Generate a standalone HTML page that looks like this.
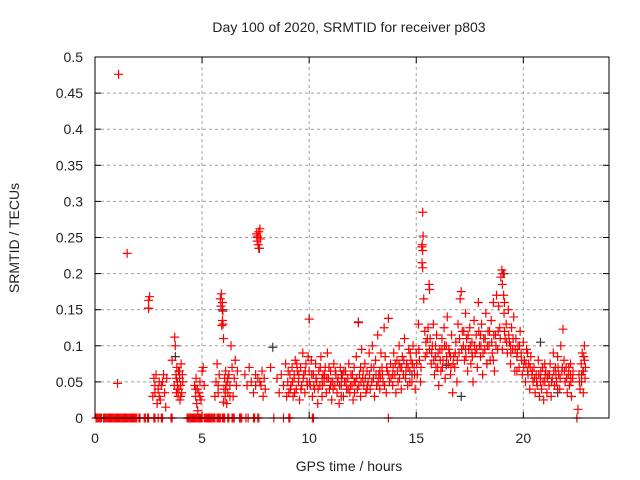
<!DOCTYPE html>
<html><head><meta charset="utf-8">
<style>
html,body{margin:0;padding:0;background:#fff;}
svg{display:block;font-family:"Liberation Sans",sans-serif;}
</style></head>
<body>
<svg id="chart" width="640" height="480" viewBox="0 0 640 480">
<text x="349" y="32" font-size="14" text-anchor="middle" fill="#222">Day 100 of 2020, SRMTID for receiver p803</text>
<text x="349" y="471" font-size="14" text-anchor="middle" fill="#222">GPS time / hours</text>
<text transform="translate(19,238) rotate(-90)" font-size="14" text-anchor="middle" fill="#222">SRMTID / TECUs</text>
<g id="grid"></g>
<g id="ticks"></g>
<g id="blk"></g>
<g id="red"></g>
<rect x="95" y="57" width="514" height="361" fill="none" stroke="#000" stroke-width="1"/>
</svg>
<script>
const xTicks=[0,5,10,15,20];
const xTickLabels=["0","5","10","15","20"];
const yTicks=[0,0.05,0.1,0.15,0.2,0.25,0.3,0.35,0.4,0.45,0.5];
const yTickLabels=["0","0.05","0.1","0.15","0.2","0.25","0.3","0.35","0.4","0.45","0.5"];
const zeroHours=[0.05,0.1,0.15,0.2,0.25,0.3,0.4,0.45,0.5,0.55,0.6,0.65,0.7,0.75,0.8,0.85,0.9,0.95,1.0,1.05,1.1,1.15,1.2,1.25,1.3,1.35,1.4,1.45,1.5,1.55,1.6,1.65,1.7,1.75,1.8,1.85,1.9,1.95,2.05,2.1,2.3,2.35,2.45,2.5,2.75,2.8,2.95,3.1,3.15,3.55,3.6,4.3,4.35,4.4,4.45,4.5,4.55,4.6,4.65,4.7,4.75,4.8,4.85,4.9,4.95,5.0,5.1,5.15,5.2,5.25,5.3,5.35,5.4,5.45,5.5,5.55,5.6,5.7,5.75,5.8,5.85,5.95,6.0,6.05,6.2,6.25,6.4,6.45,6.5,6.75,6.8,6.85,7.05,7.15,7.4,7.45,7.6,7.65,8.35,8.8,9.05,9.1,10.15,10.2,13.7,22.5];
const redPoints=[
[1.1,.476],[1.05,.048],[1.5,.228],[2.5,.163],[2.55,.168],[2.5,.152],
[2.7,.03],[2.75,.055],[2.8,.045],[2.85,.06],[2.9,.02],[2.95,.04],[3.0,.05],[3.05,.025],[3.1,.045],[3.2,.06],[3.25,.035],[3.3,.015],[3.35,.055],[2.8,.035],[3.0,.03],[3.15,.05],
[3.6,.08],[3.7,.045],[3.72,.112],[3.75,.1],[3.78,.06],[3.8,.035],[3.82,.07],[3.85,.05],[3.88,.03],[3.9,.065],[3.92,.04],[3.95,.055],[3.97,.025],[4.0,.045],[4.02,.075],[4.05,.035],[4.08,.06],[4.1,.05],[3.85,.04],[3.95,.065],[4.0,.03],[3.8,.055],
[4.65,.045],[4.7,.03],[4.72,.055],[4.75,.02],[4.78,.04],[4.8,.01],[4.85,.035],[4.9,.05],[4.95,.025],[5.0,.065],[5.05,.07],[5.1,.045],[4.7,.04],[4.9,.03],
[5.6,.03],[5.65,.05],[5.7,.075],[5.75,.045],[5.8,.06],[5.85,.165],[5.88,.155],[5.9,.172],[5.92,.128],[5.95,.135],[5.98,.13],[6.0,.11],[5.95,.16],[5.97,.148],[6.0,.022],[6.02,.04],[6.05,.055],[6.08,.03],[6.1,.065],[6.12,.045],[6.15,.02],[6.18,.05],[6.2,.035],[6.25,.06],[6.3,.045],[6.35,.1],[6.4,.07],[6.45,.03],[6.5,.055],[6.55,.08],[6.6,.045],[6.65,.065],[6.1,.04],[6.2,.055],[6.3,.03],[5.75,.035],
[7.0,.06],[7.1,.045],[7.2,.07],[7.3,.05],[7.4,.035],[7.5,.06],[7.55,.255],[7.57,.245],[7.6,.25],[7.62,.24],[7.65,.258],[7.68,.235],[7.7,.262],[7.72,.248],[7.58,.252],[7.75,.045],[7.8,.065],[7.85,.03],[7.9,.055],[7.95,.04],[7.5,.045],[7.6,.055],[7.7,.05],
[8.2,.07],[8.5,.055],[8.6,.035],[8.7,.06],[8.8,.045],[8.9,.075],[8.95,.03],[9.0,.05],[9.05,.035],[9.1,.06],[9.15,.045],[9.2,.07],[9.25,.03],[9.3,.055],[9.35,.08],[9.4,.04],[9.45,.065],[9.5,.05],[9.55,.025],[9.6,.07],[9.65,.045],[9.7,.09],[9.75,.06],[9.8,.035],[9.85,.075],[9.9,.05],[9.95,.085],[10.0,.065],[10.0,.137],[10.05,.045],[10.1,.08],[10.15,.03],
[10.2,.06],[10.25,.04],[10.3,.075],[10.35,.05],[10.4,.02],[10.45,.065],[10.5,.045],[10.55,.085],[10.6,.03],[10.65,.06],[10.7,.05],[10.75,.07],[10.8,.035],[10.85,.09],[10.9,.055],[10.95,.04],[11.0,.065],[11.05,.025],[11.1,.05],[11.15,.075],[11.2,.045],[11.25,.06],[11.3,.035],[11.35,.055],[11.4,.02],[11.45,.07],[11.5,.045],[11.55,.06],[11.6,.03],[11.65,.05],[11.7,.065],[11.75,.04],[11.8,.055],[11.85,.075],[11.9,.035],[11.95,.06],
[12.0,.045],[12.05,.025],[12.1,.07],[12.15,.05],[12.2,.085],[12.25,.04],[12.3,.132],[12.35,.06],[12.4,.03],[12.45,.095],[12.5,.055],[12.55,.045],[12.6,.075],[12.65,.035],[12.7,.065],[12.75,.05],[12.8,.09],[12.85,.04],[12.9,.07],[12.95,.1],[13.0,.055],[13.05,.03],[13.1,.08],[13.15,.045],[13.2,.115],[13.25,.06],[13.3,.04],[13.35,.09],[13.4,.07],[13.45,.05],[13.5,.125],[13.55,.085],[13.6,.035],[13.65,.065],[13.7,.138],[13.75,.05],[13.8,.075],
[13.9,.045],[13.95,.09],[14.0,.06],[14.05,.035],[14.1,.08],[14.15,.05],[14.2,.1],[14.25,.07],[14.3,.04],[14.35,.085],[14.4,.06],[14.45,.11],[14.5,.055],[14.55,.075],[14.6,.045],[14.65,.095],[14.7,.065],[14.75,.08],[14.8,.05],[14.85,.1],[14.9,.07],[14.95,.04],[15.0,.09],[15.05,.06],[15.1,.13],[15.15,.08],[15.2,.05],
[15.3,.285],[15.32,.252],[15.28,.24],[15.26,.237],[15.3,.232],[15.27,.215],[15.3,.208],[15.35,.165],[15.4,.12],[15.45,.105],[15.5,.09],[15.55,.125],[15.6,.185],[15.62,.178],[15.65,.11],[15.7,.075],[15.75,.1],[15.8,.13],[15.85,.06],[15.9,.085],[15.95,.115],[16.0,.07],[16.05,.045],[16.1,.095],[16.15,.065],[16.2,.11],[16.25,.08],[16.3,.125],[16.35,.055],[16.4,.1],[16.45,.14],[16.5,.075],[16.55,.09],[16.6,.06],[16.65,.115],[16.7,.035],[16.75,.085],[16.8,.07],[16.85,.105],[16.9,.05],[16.95,.13],[17.0,.09],
[17.05,.165],[17.1,.175],[17.15,.12],[17.2,.1],[17.25,.08],[17.3,.145],[17.35,.11],[17.4,.065],[17.45,.095],[17.5,.125],[17.55,.075],[17.6,.105],[17.65,.05],[17.7,.135],[17.75,.09],[17.8,.115],[17.85,.07],[17.9,.16],[17.95,.1],[18.0,.085],[18.05,.13],[18.1,.06],[18.15,.11],[18.2,.095],[18.25,.145],[18.3,.075],[18.35,.12],[18.4,.1],[18.45,.08],[18.5,.135],[18.55,.09],[18.6,.16],[18.65,.065],[18.7,.115],[18.75,.17],[18.8,.095],[18.85,.155],[18.9,.125],
[18.95,.195],[19.0,.205],[19.05,.2],[19.02,.185],[19.08,.17],[19.1,.145],[19.12,.16],[19.15,.11],[19.2,.13],[19.25,.09],[19.3,.15],[19.35,.105],[19.4,.075],[19.45,.125],[19.5,.095],[19.55,.14],[19.6,.065],[19.65,.11],[19.7,.085],[19.75,.1],[19.8,.07],[19.85,.12],[19.9,.09],[19.95,.06],[20.0,.105],[20.05,.08],[20.1,.05],[20.15,.095],[20.2,.065],[20.25,.075],[20.3,.04],[20.35,.085],[20.4,.06],[20.45,.05],
[20.5,.07],[20.55,.035],[20.6,.06],[20.65,.045],[20.7,.08],[20.75,.03],[20.8,.055],[20.85,.04],[20.9,.07],[20.95,.025],[21.0,.05],[21.05,.065],[21.1,.035],[21.15,.06],[21.2,.045],[21.25,.075],[21.3,.03],[21.35,.055],[21.4,.09],[21.45,.045],[21.5,.07],[21.55,.05],[21.6,.085],[21.65,.06],[21.7,.04],[21.75,.1],[21.8,.065],[21.85,.123],[21.9,.08],[21.95,.05],[22.0,.07],[22.05,.035],[22.1,.06],[22.15,.045],[22.2,.075],[22.25,.03],[22.3,.055],
[22.55,.012],[22.6,.06],[22.65,.04],[22.7,.075],[22.72,.05],[22.75,.09],[22.78,.065],[22.8,.035],[22.82,.085],[22.85,.1],[22.88,.055],[22.9,.07],
[9.3,.06],[10.6,.055],[11.5,.03],[12.1,.05],[12.7,.04],[13.3,.065],[14.2,.075],[14.7,.05],[15.9,.1],[16.6,.085],[17.3,.095],[18.0,.115],[18.6,.08],[19.4,.1],[20.2,.09],[21.0,.075],[21.6,.04],[22.2,.06],[11.0,.045],[12.4,.07],[13.9,.06],[16.2,.095],[17.6,.09],[19.7,.065],[20.8,.05],
[9.02,.065],[9.12,.04],[9.22,.05],[9.32,.035],[9.42,.075],[9.52,.06],[9.62,.04],[9.72,.055],[9.82,.065],[9.92,.045],[10.02,.05],[10.12,.06],[10.22,.045],[10.32,.055],[10.42,.04],[10.52,.07],[10.62,.045],[10.72,.06],[10.82,.055],[10.92,.07],[11.02,.05],[11.12,.04],[11.22,.065],[11.32,.05],[11.42,.045],[11.52,.055],[11.62,.065],[11.72,.05],[11.82,.04],[11.92,.045],
[12.02,.06],[12.12,.035],[12.22,.055],[12.32,.045],[12.42,.05],[12.52,.065],[12.62,.055],[12.72,.045],[12.82,.06],[12.92,.05],[13.02,.07],[13.12,.06],[13.22,.05],[13.32,.055],[13.42,.06],[13.52,.045],[13.62,.07],[13.72,.06],[13.82,.055],[13.92,.07],
[14.02,.075],[14.12,.065],[14.22,.055],[14.32,.07],[14.42,.08],[14.52,.065],[14.62,.07],[14.72,.09],[14.82,.075],[14.92,.06],[15.02,.075],[15.12,.095],[15.22,.07],[15.42,.085],[15.52,.11],[15.62,.095],[15.72,.09],[15.82,.08],[15.92,.07],[16.02,.09],[16.12,.08],[16.22,.07],[16.32,.1],[16.42,.085],[16.52,.095],[16.62,.07],[16.72,.075],[16.82,.09],[16.92,.08],
[17.02,.11],[17.12,.095],[17.22,.12],[17.32,.085],[17.42,.115],[17.52,.1],[17.62,.085],[17.72,.1],[17.82,.095],[17.92,.12],[18.02,.1],[18.12,.09],[18.22,.11],[18.32,.1],[18.42,.12],[18.52,.105],[18.62,.115],[18.72,.1],[18.82,.12],[18.92,.11],[19.02,.095],[19.12,.12],[19.22,.105],[19.32,.115],[19.42,.09],[19.52,.11],[19.62,.095],[19.72,.09],[19.82,.1],[19.92,.08],
[20.02,.07],[20.12,.075],[20.22,.06],[20.32,.07],[20.42,.065],[20.52,.055],[20.62,.05],[20.72,.06],[20.82,.065],[20.92,.05],[21.02,.06],[21.12,.055],[21.22,.06],[21.32,.05],[21.42,.065],[21.52,.06],[21.62,.07],[21.72,.055],[21.82,.07],[21.92,.065],[22.02,.055],[22.12,.07],[22.22,.05],[22.32,.065],[22.62,.05],[22.72,.06],[22.86,.08]
];
const blackPoints=[[2.5,.152],[3.75,.085],[5.95,.15],[7.65,.235],[8.3,.098],[10.0,.137],[12.3,.133],[16.4,.073],[17.1,.03],[18.3,.075],[19.1,.2],[20.8,.105],[21.6,.035],[22.8,.065],[14.8,.06],[11.5,.06]];

const X0=95,X1=609,Y0=418,Y1=57,XMAX=24,YMAX=0.5;
function xs(h){return X0+(X1-X0)*h/XMAX;}
function ys(v){return Y0-(Y0-Y1)*v/YMAX;}
const NS="http://www.w3.org/2000/svg";
const grid=document.getElementById('grid'),ticks=document.getElementById('ticks');
function mk(tag,attrs,parent){const e=document.createElementNS(NS,tag);for(const k in attrs)e.setAttribute(k,attrs[k]);parent.appendChild(e);return e;}
yTicks.forEach((v,i)=>{
  const y=ys(v);
  if(i>0&&i<yTicks.length-1){const g=mk('line',{x1:X0,x2:X1,y1:y,y2:y,stroke:'#a0a0a0','stroke-dasharray':'3,3'},grid);
  
  }
  const t1=mk('line',{x1:X0,x2:X0+6,y1:y,y2:y,stroke:'#000'},ticks);
  
  
  const t2=mk('line',{x1:X1-6,x2:X1,y1:y,y2:y,stroke:'#000'},ticks);
  
  
  const l=mk('text',{x:X0-12,y:y+5,'font-size':14,'text-anchor':'end',fill:'#222'},ticks);
  l.textContent=yTickLabels[i];
  
  
});
xTicks.forEach((h,i)=>{
  const x=xs(h);
  if(i>0){const g=mk('line',{x1:x,x2:x,y1:Y0,y2:Y1,stroke:'#a0a0a0','stroke-dasharray':'3,3'},grid);
  
  }
  const t1=mk('line',{x1:x,x2:x,y1:Y0,y2:Y0-6,stroke:'#000'},ticks);
  
  
  const t2=mk('line',{x1:x,x2:x,y1:Y1,y2:Y1+6,stroke:'#000'},ticks);
  
  
  const l=mk('text',{x:x,y:Y0+25,'font-size':14,'text-anchor':'middle',fill:'#222'},ticks);
  l.textContent=xTickLabels[i];
  
  
});
function plus(parent,h,v,col){
  const x=xs(h),y=ys(v);
  const p=mk('path',{d:`M${x-4.5},${y}H${x+4.5}M${x},${y-4.5}V${y+4.5}`,stroke:col,'stroke-width':1.2,fill:'none'},parent);
  
  
}
const red=document.getElementById('red'),blk=document.getElementById('blk');
blackPoints.forEach(p=>plus(blk,p[0],p[1],'#333'));
redPoints.forEach(p=>plus(red,p[0],p[1],'#ff0000'));
zeroHours.forEach(h=>plus(red,h,0,'#ff0000'));
</script>
</body></html>
